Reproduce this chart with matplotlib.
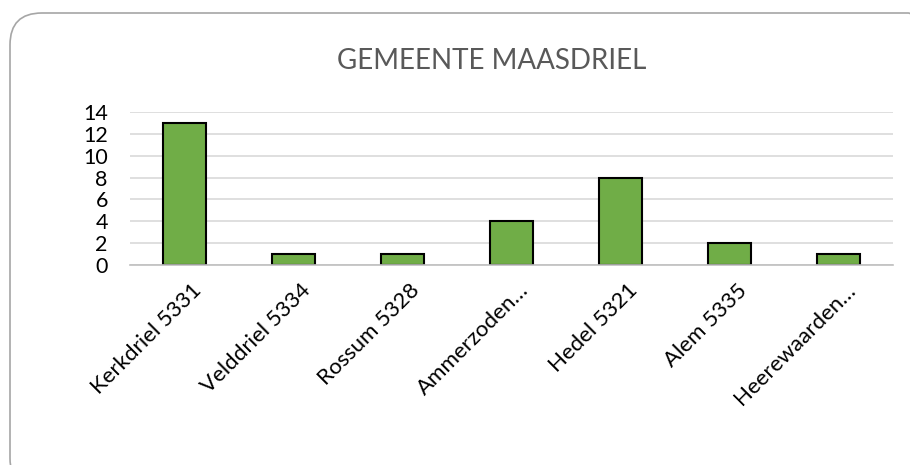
import matplotlib
matplotlib.use("Agg")
import matplotlib.pyplot as plt
from matplotlib.patches import FancyBboxPatch
import matplotlib.transforms as mtransforms

plaatsen = ["Kerkdriel 5331", "Velddriel 5334", "Rossum 5328", "Ammerzoden…",
            "Hedel 5321", "Alem 5335", "Heerewaarden…"]
aantallen = [13, 1, 1, 4, 8, 2, 1]
yticks = [0, 2, 4, 6, 8, 10, 12, 14]

plt.rcParams['font.family'] = ['Lato', 'DejaVu Sans']

W, H = 910, 465
fig = plt.figure(figsize=(W / 100, H / 100), dpi=100)

# afgeronde kader rond de grafiek
kader = FancyBboxPatch((10 / W, (H - 490) / H), 930 / W, 477 / H,
                       boxstyle="round,pad=0,rounding_size=0.035",
                       transform=fig.transFigure, facecolor="none",
                       edgecolor="#a6a6a6", linewidth=1.2, mutation_aspect=W / H)
fig.patches.append(kader)

ax = fig.add_axes([130 / W, 1 - 265 / H, 763 / W, 153 / H])
ax.set_facecolor("none")

x = range(len(plaatsen))
ax.bar(x, aantallen, width=0.4, color="#70ad47", edgecolor="black", linewidth=1.5, zorder=3)

ax.set_xlim(-0.5, len(plaatsen) - 0.5)
ax.set_ylim(0, 14)
ax.set_yticks(yticks)
ax.set_yticklabels([str(v) for v in yticks], fontsize=15.5)
ax.yaxis.grid(True, color="#d9d9d9", linewidth=1.2, zorder=0)
ax.tick_params(axis="y", length=0, pad=16)
ax.tick_params(axis="x", length=0, pad=11)
for s in ["top", "right", "left"]:
    ax.spines[s].set_visible(False)
ax.spines["bottom"].set_color("#bfbfbf")
ax.spines["bottom"].set_linewidth(1.2)
ax.spines["bottom"].set_zorder(4)

ax.set_xticks(list(x))
ax.set_xticklabels(plaatsen, rotation=45, ha="right", rotation_mode="anchor", fontsize=16)
offset = mtransforms.ScaledTranslation(7 / 100, 0, fig.dpi_scale_trans)
for lbl in ax.get_xticklabels():
    lbl.set_transform(lbl.get_transform() + offset)

fig.text(492 / W, 1 - 61 / H, "GEMEENTE MAASDRIEL", ha="center", va="center",
         fontsize=20, color="#595959")

fig.savefig("out.png", dpi=100)
